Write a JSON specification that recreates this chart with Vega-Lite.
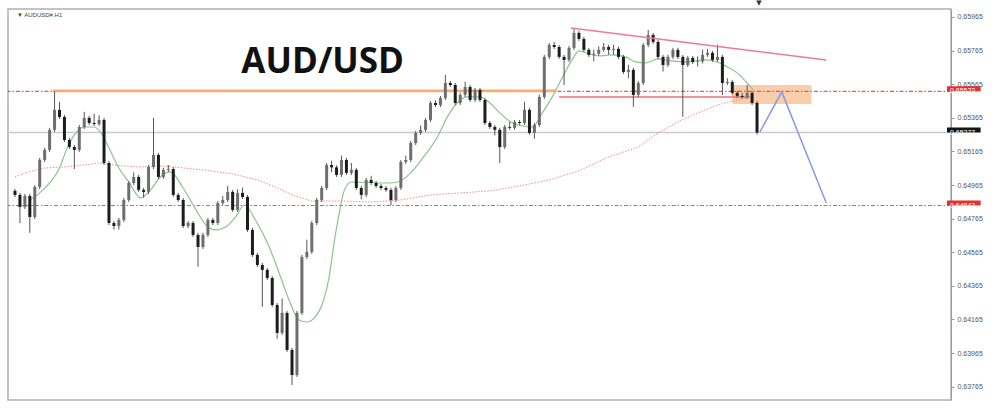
{
"$schema": "https://vega.github.io/schema/vega-lite/v6.json",
"width": 943, "height": 391,
"padding": {"left": 8, "top": 9, "right": 49, "bottom": 8},
"autosize": {"type": "none"},
"background": "white",
"config": {"view": {"stroke": "#b0b0b0", "strokeWidth": 1.5}, "axis": {"labelFont": "Liberation Sans", "labelFontSize": 7, "labelColor": "#555555", "tickColor": "#999999", "tickSize": 3, "domainColor": "#9a9a9a", "grid": false, "labelPadding": 3}},
"datasets": {
"candles": [
{"t":0,"o":0.6493,"h":0.64942,"l":0.64894,"c":0.64906},
{"t":1,"o":0.64906,"h":0.64918,"l":0.64739,"c":0.64834},
{"t":2,"o":0.64834,"h":0.64912,"l":0.64822,"c":0.649},
{"t":3,"o":0.649,"h":0.64912,"l":0.6468,"c":0.64775},
{"t":4,"o":0.64775,"h":0.64965,"l":0.64763,"c":0.64953},
{"t":5,"o":0.64953,"h":0.65126,"l":0.64941,"c":0.65114},
{"t":6,"o":0.65114,"h":0.65186,"l":0.65102,"c":0.65174},
{"t":7,"o":0.65174,"h":0.65305,"l":0.65162,"c":0.65293},
{"t":8,"o":0.65293,"h":0.65522,"l":0.65281,"c":0.65412},
{"t":9,"o":0.65412,"h":0.6546,"l":0.65358,"c":0.6537},
{"t":10,"o":0.6537,"h":0.65382,"l":0.65221,"c":0.65233},
{"t":11,"o":0.65233,"h":0.65245,"l":0.65179,"c":0.65191},
{"t":12,"o":0.65191,"h":0.65203,"l":0.6506,"c":0.65174},
{"t":13,"o":0.65174,"h":0.65322,"l":0.65162,"c":0.6531},
{"t":14,"o":0.6531,"h":0.654,"l":0.65298,"c":0.65364},
{"t":15,"o":0.65364,"h":0.65376,"l":0.65322,"c":0.65334},
{"t":16,"o":0.65334,"h":0.6539,"l":0.65316,"c":0.65328},
{"t":17,"o":0.65328,"h":0.6538,"l":0.65316,"c":0.65352},
{"t":18,"o":0.65352,"h":0.65364,"l":0.65084,"c":0.65096},
{"t":19,"o":0.65096,"h":0.65108,"l":0.64727,"c":0.64739},
{"t":20,"o":0.64739,"h":0.64751,"l":0.647,"c":0.64721},
{"t":21,"o":0.64721,"h":0.64769,"l":0.647,"c":0.64757},
{"t":22,"o":0.64757,"h":0.64888,"l":0.64745,"c":0.64876},
{"t":23,"o":0.64876,"h":0.64989,"l":0.64864,"c":0.64977},
{"t":24,"o":0.64977,"h":0.6504,"l":0.64965,"c":0.65013},
{"t":25,"o":0.65013,"h":0.65025,"l":0.64924,"c":0.64936},
{"t":26,"o":0.64936,"h":0.64948,"l":0.6489,"c":0.64924},
{"t":27,"o":0.64924,"h":0.65084,"l":0.64912,"c":0.65072},
{"t":28,"o":0.65072,"h":0.65364,"l":0.6506,"c":0.65144},
{"t":29,"o":0.65144,"h":0.65156,"l":0.65001,"c":0.65013},
{"t":30,"o":0.65013,"h":0.65067,"l":0.65001,"c":0.65055},
{"t":31,"o":0.65055,"h":0.65084,"l":0.65043,"c":0.6506},
{"t":32,"o":0.6506,"h":0.65072,"l":0.64894,"c":0.64906},
{"t":33,"o":0.64906,"h":0.64918,"l":0.64864,"c":0.64876},
{"t":34,"o":0.64876,"h":0.64888,"l":0.64709,"c":0.64721},
{"t":35,"o":0.64721,"h":0.64751,"l":0.64709,"c":0.64739},
{"t":36,"o":0.64739,"h":0.64751,"l":0.64656,"c":0.64668},
{"t":37,"o":0.64668,"h":0.6468,"l":0.64478,"c":0.64596},
{"t":38,"o":0.64596,"h":0.6468,"l":0.64584,"c":0.64668},
{"t":39,"o":0.64668,"h":0.64769,"l":0.64656,"c":0.64757},
{"t":40,"o":0.64757,"h":0.64769,"l":0.64727,"c":0.64739},
{"t":41,"o":0.64739,"h":0.6487,"l":0.64727,"c":0.64858},
{"t":42,"o":0.64858,"h":0.649,"l":0.64846,"c":0.64876},
{"t":43,"o":0.64876,"h":0.6496,"l":0.64864,"c":0.64924},
{"t":44,"o":0.64924,"h":0.64936,"l":0.64805,"c":0.64817},
{"t":45,"o":0.64817,"h":0.6494,"l":0.64805,"c":0.64918},
{"t":46,"o":0.64918,"h":0.6495,"l":0.64882,"c":0.64894},
{"t":47,"o":0.64894,"h":0.64906,"l":0.64686,"c":0.64698},
{"t":48,"o":0.64698,"h":0.6471,"l":0.64537,"c":0.64549},
{"t":49,"o":0.64549,"h":0.64561,"l":0.64477,"c":0.64489},
{"t":50,"o":0.64489,"h":0.64501,"l":0.6424,"c":0.6446},
{"t":51,"o":0.6446,"h":0.64472,"l":0.644,"c":0.64412},
{"t":52,"o":0.64412,"h":0.64424,"l":0.64239,"c":0.64251},
{"t":53,"o":0.64251,"h":0.64263,"l":0.6405,"c":0.64085},
{"t":54,"o":0.64085,"h":0.6429,"l":0.64073,"c":0.64204},
{"t":55,"o":0.64204,"h":0.64216,"l":0.63972,"c":0.63984},
{"t":56,"o":0.63984,"h":0.63996,"l":0.63775,"c":0.63835},
{"t":57,"o":0.63835,"h":0.64216,"l":0.63823,"c":0.64204},
{"t":58,"o":0.64204,"h":0.64549,"l":0.64192,"c":0.64537},
{"t":59,"o":0.64537,"h":0.6464,"l":0.64525,"c":0.64567},
{"t":60,"o":0.64567,"h":0.64751,"l":0.64555,"c":0.64739},
{"t":61,"o":0.64739,"h":0.64888,"l":0.64727,"c":0.64876},
{"t":62,"o":0.64876,"h":0.64959,"l":0.64864,"c":0.64947},
{"t":63,"o":0.64947,"h":0.65096,"l":0.64935,"c":0.65084},
{"t":64,"o":0.65084,"h":0.6511,"l":0.6504,"c":0.6507},
{"t":65,"o":0.6507,"h":0.65082,"l":0.65013,"c":0.65025},
{"t":66,"o":0.65025,"h":0.6514,"l":0.65013,"c":0.65114},
{"t":67,"o":0.65114,"h":0.65126,"l":0.65025,"c":0.65037},
{"t":68,"o":0.65037,"h":0.65096,"l":0.65025,"c":0.65055},
{"t":69,"o":0.65055,"h":0.65067,"l":0.64935,"c":0.64947},
{"t":70,"o":0.64947,"h":0.64959,"l":0.6488,"c":0.64906},
{"t":71,"o":0.64906,"h":0.65007,"l":0.64894,"c":0.64995},
{"t":72,"o":0.64995,"h":0.6502,"l":0.64965,"c":0.64977},
{"t":73,"o":0.64977,"h":0.64989,"l":0.64947,"c":0.64959},
{"t":74,"o":0.64959,"h":0.64971,"l":0.64935,"c":0.64947},
{"t":75,"o":0.64947,"h":0.64959,"l":0.64924,"c":0.64936},
{"t":76,"o":0.64936,"h":0.64948,"l":0.64846,"c":0.64876},
{"t":77,"o":0.64876,"h":0.64959,"l":0.64864,"c":0.64947},
{"t":78,"o":0.64947,"h":0.65114,"l":0.64935,"c":0.65102},
{"t":79,"o":0.65102,"h":0.6514,"l":0.6509,"c":0.65114},
{"t":80,"o":0.65114,"h":0.65227,"l":0.65102,"c":0.65215},
{"t":81,"o":0.65215,"h":0.65287,"l":0.65203,"c":0.65275},
{"t":82,"o":0.65275,"h":0.6532,"l":0.65263,"c":0.65293},
{"t":83,"o":0.65293,"h":0.65364,"l":0.65281,"c":0.65352},
{"t":84,"o":0.65352,"h":0.65465,"l":0.6534,"c":0.65453},
{"t":85,"o":0.65453,"h":0.6547,"l":0.65429,"c":0.65441},
{"t":86,"o":0.65441,"h":0.65495,"l":0.65429,"c":0.65483},
{"t":87,"o":0.65483,"h":0.6562,"l":0.65471,"c":0.65572},
{"t":88,"o":0.65572,"h":0.65584,"l":0.65548,"c":0.6556},
{"t":89,"o":0.6556,"h":0.65572,"l":0.65441,"c":0.65453},
{"t":90,"o":0.65453,"h":0.65513,"l":0.65441,"c":0.65501},
{"t":91,"o":0.65501,"h":0.6558,"l":0.65489,"c":0.65548},
{"t":92,"o":0.65548,"h":0.6556,"l":0.65459,"c":0.65471},
{"t":93,"o":0.65471,"h":0.65543,"l":0.65459,"c":0.65531},
{"t":94,"o":0.65531,"h":0.65543,"l":0.65459,"c":0.65471},
{"t":95,"o":0.65471,"h":0.65483,"l":0.65322,"c":0.65334},
{"t":96,"o":0.65334,"h":0.65346,"l":0.65298,"c":0.6531},
{"t":97,"o":0.6531,"h":0.65322,"l":0.6526,"c":0.65293},
{"t":98,"o":0.65293,"h":0.65305,"l":0.65096,"c":0.65191},
{"t":99,"o":0.65191,"h":0.65322,"l":0.65179,"c":0.6531},
{"t":100,"o":0.6531,"h":0.6534,"l":0.65293,"c":0.65305},
{"t":101,"o":0.65305,"h":0.65352,"l":0.65293,"c":0.6534},
{"t":102,"o":0.6534,"h":0.65352,"l":0.65322,"c":0.65334},
{"t":103,"o":0.65334,"h":0.6546,"l":0.65322,"c":0.65412},
{"t":104,"o":0.65412,"h":0.65424,"l":0.65263,"c":0.65275},
{"t":105,"o":0.65275,"h":0.65334,"l":0.6524,"c":0.65322},
{"t":106,"o":0.65322,"h":0.65501,"l":0.6531,"c":0.65489},
{"t":107,"o":0.65489,"h":0.65739,"l":0.65477,"c":0.65727},
{"t":108,"o":0.65727,"h":0.6581,"l":0.65715,"c":0.65798},
{"t":109,"o":0.65798,"h":0.65816,"l":0.65774,"c":0.65786},
{"t":110,"o":0.65786,"h":0.65798,"l":0.65715,"c":0.65727},
{"t":111,"o":0.65727,"h":0.65739,"l":0.6556,"c":0.65709},
{"t":112,"o":0.65709,"h":0.65792,"l":0.65697,"c":0.6578},
{"t":113,"o":0.6578,"h":0.65899,"l":0.65768,"c":0.6587},
{"t":114,"o":0.6587,"h":0.65882,"l":0.65822,"c":0.65834},
{"t":115,"o":0.65834,"h":0.65846,"l":0.65757,"c":0.65769},
{"t":116,"o":0.65769,"h":0.65781,"l":0.65727,"c":0.65739},
{"t":117,"o":0.65739,"h":0.6577,"l":0.657,"c":0.65745},
{"t":118,"o":0.65745,"h":0.6579,"l":0.65733,"c":0.65769},
{"t":119,"o":0.65769,"h":0.6581,"l":0.65757,"c":0.65786},
{"t":120,"o":0.65786,"h":0.65798,"l":0.6574,"c":0.65769},
{"t":121,"o":0.65769,"h":0.658,"l":0.6574,"c":0.65775},
{"t":122,"o":0.65775,"h":0.65787,"l":0.65715,"c":0.65727},
{"t":123,"o":0.65727,"h":0.65739,"l":0.65626,"c":0.65638},
{"t":124,"o":0.65638,"h":0.6568,"l":0.656,"c":0.6565},
{"t":125,"o":0.6565,"h":0.65662,"l":0.6543,"c":0.65501},
{"t":126,"o":0.65501,"h":0.65584,"l":0.65489,"c":0.65572},
{"t":127,"o":0.65572,"h":0.6581,"l":0.6556,"c":0.65798},
{"t":128,"o":0.65798,"h":0.65887,"l":0.65786,"c":0.65858},
{"t":129,"o":0.65858,"h":0.6587,"l":0.65804,"c":0.65816},
{"t":130,"o":0.65816,"h":0.65828,"l":0.65715,"c":0.65727},
{"t":131,"o":0.65727,"h":0.65739,"l":0.6564,"c":0.65679},
{"t":132,"o":0.65679,"h":0.65739,"l":0.65667,"c":0.65727},
{"t":133,"o":0.65727,"h":0.65781,"l":0.65715,"c":0.65769},
{"t":134,"o":0.65769,"h":0.65781,"l":0.65715,"c":0.65727},
{"t":135,"o":0.65727,"h":0.65739,"l":0.6537,"c":0.65679},
{"t":136,"o":0.65679,"h":0.65733,"l":0.65667,"c":0.65721},
{"t":137,"o":0.65721,"h":0.65733,"l":0.65685,"c":0.65697},
{"t":138,"o":0.65697,"h":0.6573,"l":0.6567,"c":0.657},
{"t":139,"o":0.657,"h":0.6577,"l":0.65688,"c":0.65739},
{"t":140,"o":0.65739,"h":0.65775,"l":0.65727,"c":0.65751},
{"t":141,"o":0.65751,"h":0.65763,"l":0.65697,"c":0.65709},
{"t":142,"o":0.65709,"h":0.658,"l":0.65697,"c":0.65727},
{"t":143,"o":0.65727,"h":0.65739,"l":0.655,"c":0.65572},
{"t":144,"o":0.65572,"h":0.656,"l":0.6556,"c":0.65578},
{"t":145,"o":0.65578,"h":0.6559,"l":0.65501,"c":0.65513},
{"t":146,"o":0.65513,"h":0.65525,"l":0.65483,"c":0.65495},
{"t":147,"o":0.65495,"h":0.65513,"l":0.65477,"c":0.65489},
{"t":148,"o":0.65489,"h":0.6556,"l":0.65477,"c":0.65513},
{"t":149,"o":0.65513,"h":0.65525,"l":0.65441,"c":0.65453},
{"t":150,"o":0.65453,"h":0.65465,"l":0.65265,"c":0.65277}
],
"ma50": [
{"t":3,"v":0.64876},{"t":5,"v":0.64918},{"t":7,"v":0.64977},{"t":9,"v":0.65066},{"t":10.4,"v":0.65174},{"t":12,"v":0.65263},{"t":14,"v":0.6531},{"t":16,"v":0.6531},{"t":17.4,"v":0.65275},{"t":19,"v":0.65185},{"t":21,"v":0.65066},{"t":23,"v":0.64983},{"t":25.4,"v":0.64888},{"t":27.4,"v":0.64936},{"t":29.4,"v":0.65013},{"t":31.4,"v":0.65043},{"t":34,"v":0.64947},{"t":36.6,"v":0.64817},{"t":38.6,"v":0.64727},{"t":40.6,"v":0.64698},{"t":42.6,"v":0.64715},{"t":44.6,"v":0.64775},{"t":46.4,"v":0.64846},{"t":48.6,"v":0.64757},{"t":51.4,"v":0.64596},{"t":53.4,"v":0.64442},{"t":55.4,"v":0.64281},{"t":57.4,"v":0.64162},{"t":59,"v":0.6415},{"t":61,"v":0.64192},{"t":62.4,"v":0.64281},{"t":63.4,"v":0.644},{"t":64.6,"v":0.64638},{"t":65.4,"v":0.64775},{"t":66.6,"v":0.64936},{"t":68,"v":0.64983},{"t":75.4,"v":0.64977},{"t":77.4,"v":0.64983},{"t":80,"v":0.65037},{"t":82.6,"v":0.65132},{"t":85.4,"v":0.65251},{"t":87.4,"v":0.6537},{"t":89.4,"v":0.65453},{"t":91.4,"v":0.65489},{"t":94,"v":0.65489},{"t":96,"v":0.65453},{"t":98,"v":0.65394},{"t":100.6,"v":0.65334},{"t":104.6,"v":0.6531},{"t":106.6,"v":0.65394},{"t":108.6,"v":0.65489},{"t":110.6,"v":0.65602},{"t":112.6,"v":0.65709},{"t":114,"v":0.65763},{"t":116,"v":0.65745},{"t":118,"v":0.65733},{"t":120.6,"v":0.65739},{"t":123.4,"v":0.65727},{"t":125.4,"v":0.65697},{"t":127.4,"v":0.65691},{"t":130,"v":0.65715},{"t":132.6,"v":0.65703},{"t":136,"v":0.65697},{"t":139.4,"v":0.65709},{"t":142,"v":0.65697},{"t":144,"v":0.65667},{"t":146,"v":0.65632},{"t":148,"v":0.65572},{"t":149.2,"v":0.65531}
],
"ma200": [
{"t":0,"v":0.65013},{"t":2,"v":0.65037},{"t":6,"v":0.65066},{"t":10,"v":0.65072},{"t":14,"v":0.65084},{"t":17,"v":0.65096},{"t":20,"v":0.65084},{"t":25,"v":0.65072},{"t":30,"v":0.65078},{"t":38,"v":0.65055},{"t":44,"v":0.65031},{"t":49,"v":0.64995},{"t":52.6,"v":0.64953},{"t":56.6,"v":0.649},{"t":60,"v":0.6487},{"t":66,"v":0.6487},{"t":72,"v":0.64864},{"t":78,"v":0.64876},{"t":84,"v":0.64906},{"t":90,"v":0.64918},{"t":96,"v":0.6493},{"t":102,"v":0.64959},{"t":108,"v":0.64995},{"t":114,"v":0.65049},{"t":120,"v":0.65132},{"t":126,"v":0.65191},{"t":130,"v":0.65275},{"t":134,"v":0.6534},{"t":138,"v":0.65394},{"t":142,"v":0.65441},{"t":146,"v":0.65471},{"t":149.2,"v":0.65489}
],
"dashLevels": [{"p":0.65522},{"p":0.64843}],
"priceLine": [{"p":0.65277}],
"orangeSeg": [{"t1":7.6,"t2":109.4,"p":0.65525}],
"redSeg": [{"t1":110,"t2":148.6,"p":0.65489}],
"trend": [{"t1":112.4,"p1":0.65899,"t2":164,"p2":0.65709}],
"zone": [{"t1":145,"t2":161,"p1":0.65447,"p2":0.6556}],
"projection": [{"t":150.6,"p":0.65281},{"t":155,"p":0.65519},{"t":164,"p":0.64858}],
"badges": [{"p":0.65522,"label":"0.65522","kind":"level"},{"p":0.65277,"label":"0.65277","kind":"price"},{"p":0.64843,"label":"0.64843","kind":"level"}],
"titleText": [{"t":62.2,"p":0.65632,"label":"AUD/USD"}],
"symText": [{"t":0.4,"p":0.65977,"label":"▼ AUDUSD#,H1"}],
"marker": [{"t":150.4,"p":0.66045,"label":"▼"}]
},
"layer": [
{"data": {"name": "zone"}, "mark": {"type": "rect", "fill": "#f8c79c", "opacity": 0.85},
 "encoding": {"x": {"field": "t1", "type": "quantitative", "scale": {"domain": [-0.4, 188.2], "nice": false, "zero": false}, "axis": null}, "x2": {"field": "t2"},
  "y": {"field": "p1", "type": "quantitative", "scale": {"domain": [0.63686, 0.66012], "nice": false, "zero": false}, "axis": {"orient": "right", "values": [0.63765,0.63965,0.64165,0.64365,0.64565,0.64765,0.64965,0.65165,0.65365,0.65565,0.65765,0.65965], "format": ".5f", "title": null}}, "y2": {"field": "p2"}}},
{"data": {"name": "dashLevels"}, "mark": {"type": "rule", "color": "#e5393b", "strokeWidth": 1.1, "strokeDash": [4, 2, 1.5, 2], "opacity": 0.85},
 "encoding": {"y": {"field": "p", "type": "quantitative", "axis": {"orient": "right", "values": [0.63765,0.63965,0.64165,0.64365,0.64565,0.64765,0.64965,0.65165,0.65365,0.65565,0.65765,0.65965], "format": ".5f", "title": null}}}},
{"data": {"name": "priceLine"}, "mark": {"type": "rule", "color": "#c8cbd3", "strokeWidth": 1.5},
 "encoding": {"y": {"field": "p", "type": "quantitative", "axis": {"orient": "right", "values": [0.63765,0.63965,0.64165,0.64365,0.64565,0.64765,0.64965,0.65165,0.65365,0.65565,0.65765,0.65965], "format": ".5f", "title": null}}}},
{"data": {"name": "orangeSeg"}, "mark": {"type": "rule", "color": "#f7ad72", "strokeWidth": 2.8},
 "encoding": {"x": {"field": "t1", "type": "quantitative", "axis": null}, "x2": {"field": "t2"}, "y": {"field": "p", "type": "quantitative", "axis": {"orient": "right", "values": [0.63765,0.63965,0.64165,0.64365,0.64565,0.64765,0.64965,0.65165,0.65365,0.65565,0.65765,0.65965], "format": ".5f", "title": null}}}},
{"data": {"name": "redSeg"}, "mark": {"type": "rule", "color": "#ee7078", "strokeWidth": 1.5},
 "encoding": {"x": {"field": "t1", "type": "quantitative", "axis": null}, "x2": {"field": "t2"}, "y": {"field": "p", "type": "quantitative", "axis": {"orient": "right", "values": [0.63765,0.63965,0.64165,0.64365,0.64565,0.64765,0.64965,0.65165,0.65365,0.65565,0.65765,0.65965], "format": ".5f", "title": null}}}},
{"data": {"name": "ma200"}, "mark": {"type": "line", "color": "#f08c8c", "strokeWidth": 1, "strokeDash": [1.5, 1.5]},
 "encoding": {"x": {"field": "t", "type": "quantitative", "axis": null}, "y": {"field": "v", "type": "quantitative", "axis": {"orient": "right", "values": [0.63765,0.63965,0.64165,0.64365,0.64565,0.64765,0.64965,0.65165,0.65365,0.65565,0.65765,0.65965], "format": ".5f", "title": null}}}},
{"data": {"name": "ma50"}, "mark": {"type": "line", "color": "#8cc48c", "strokeWidth": 1.2, "interpolate": "monotone"},
 "encoding": {"x": {"field": "t", "type": "quantitative", "axis": null}, "y": {"field": "v", "type": "quantitative", "axis": {"orient": "right", "values": [0.63765,0.63965,0.64165,0.64365,0.64565,0.64765,0.64965,0.65165,0.65365,0.65565,0.65765,0.65965], "format": ".5f", "title": null}}}},
{"data": {"name": "candles"}, "mark": {"type": "rule", "color": "#555555", "strokeWidth": 1},
 "encoding": {"x": {"field": "t", "type": "quantitative", "axis": null}, "y": {"field": "l", "type": "quantitative", "axis": {"orient": "right", "values": [0.63765,0.63965,0.64165,0.64365,0.64565,0.64765,0.64965,0.65165,0.65365,0.65565,0.65765,0.65965], "format": ".5f", "title": null}}, "y2": {"field": "h"}}},
{"data": {"name": "candles"}, "mark": {"type": "bar", "size": 3},
 "encoding": {"x": {"field": "t", "type": "quantitative", "axis": null}, "y": {"field": "o", "type": "quantitative", "axis": {"orient": "right", "values": [0.63765,0.63965,0.64165,0.64365,0.64565,0.64765,0.64965,0.65165,0.65365,0.65565,0.65765,0.65965], "format": ".5f", "title": null}}, "y2": {"field": "c"},
  "color": {"condition": {"test": "datum.c >= datum.o", "value": "#6e6e6e"}, "value": "#1c1c1c"}}},
{"data": {"name": "trend"}, "mark": {"type": "rule", "color": "#f07b8e", "strokeWidth": 1.5},
 "encoding": {"x": {"field": "t1", "type": "quantitative", "axis": null}, "x2": {"field": "t2"}, "y": {"field": "p1", "type": "quantitative", "axis": {"orient": "right", "values": [0.63765,0.63965,0.64165,0.64365,0.64565,0.64765,0.64965,0.65165,0.65365,0.65565,0.65765,0.65965], "format": ".5f", "title": null}}, "y2": {"field": "p2"}}},
{"data": {"name": "projection"}, "mark": {"type": "line", "color": "#8d97e2", "strokeWidth": 1.5},
 "encoding": {"x": {"field": "t", "type": "quantitative", "axis": null}, "y": {"field": "p", "type": "quantitative", "axis": {"orient": "right", "values": [0.63765,0.63965,0.64165,0.64365,0.64565,0.64765,0.64965,0.65165,0.65365,0.65565,0.65765,0.65965], "format": ".5f", "title": null}}}},
{"data": {"name": "titleText"}, "mark": {"type": "text", "font": "Open Sans", "fontWeight": "bold", "fontSize": 35, "color": "#111111", "align": "center", "baseline": "alphabetic"},
 "encoding": {"x": {"field": "t", "type": "quantitative", "axis": null}, "y": {"field": "p", "type": "quantitative", "axis": {"orient": "right", "values": [0.63765,0.63965,0.64165,0.64365,0.64565,0.64765,0.64965,0.65165,0.65365,0.65565,0.65765,0.65965], "format": ".5f", "title": null}}, "text": {"field": "label"}}},
{"data": {"name": "symText"}, "mark": {"type": "text", "font": "Liberation Sans", "fontSize": 6, "color": "#444444", "align": "left", "baseline": "middle"},
 "encoding": {"x": {"field": "t", "type": "quantitative", "axis": null}, "y": {"field": "p", "type": "quantitative", "axis": {"orient": "right", "values": [0.63765,0.63965,0.64165,0.64365,0.64565,0.64765,0.64965,0.65165,0.65365,0.65565,0.65765,0.65965], "format": ".5f", "title": null}}, "text": {"field": "label"}}},
{"data": {"name": "marker"}, "mark": {"type": "text", "font": "DejaVu Sans", "fontSize": 7, "color": "#333333", "align": "center", "baseline": "middle", "clip": false},
 "encoding": {"x": {"field": "t", "type": "quantitative", "axis": null}, "y": {"field": "p", "type": "quantitative", "axis": {"orient": "right", "values": [0.63765,0.63965,0.64165,0.64365,0.64565,0.64765,0.64965,0.65165,0.65365,0.65565,0.65765,0.65965], "format": ".5f", "title": null}}, "text": {"field": "label"}}},
{"data": {"name": "badges"}, "mark": {"type": "rect", "clip": false},
 "encoding": {"x": {"datum": 188.4, "type": "quantitative"}, "x2": {"datum": 195.2},
  "y": {"field": "p", "type": "quantitative", "axis": {"orient": "right", "values": [0.63765,0.63965,0.64165,0.64365,0.64565,0.64765,0.64965,0.65165,0.65365,0.65565,0.65765,0.65965], "format": ".5f", "title": null}},
  "y2": {"field": "p"},
  "yOffset": {"value": -5}, "y2Offset": {"value": 5},
  "color": {"field": "kind", "type": "nominal", "scale": {"domain": ["level", "price"], "range": ["#e5312c", "#151515"]}, "legend": null}}},
{"data": {"name": "badges"}, "mark": {"type": "text", "font": "Liberation Sans", "fontSize": 7, "color": "white", "align": "left", "baseline": "middle", "clip": false},
 "encoding": {"x": {"datum": 189.0, "type": "quantitative"}, "y": {"field": "p", "type": "quantitative", "axis": {"orient": "right", "values": [0.63765,0.63965,0.64165,0.64365,0.64565,0.64765,0.64965,0.65165,0.65365,0.65565,0.65765,0.65965], "format": ".5f", "title": null}}, "text": {"field": "label"}}}
]
}
